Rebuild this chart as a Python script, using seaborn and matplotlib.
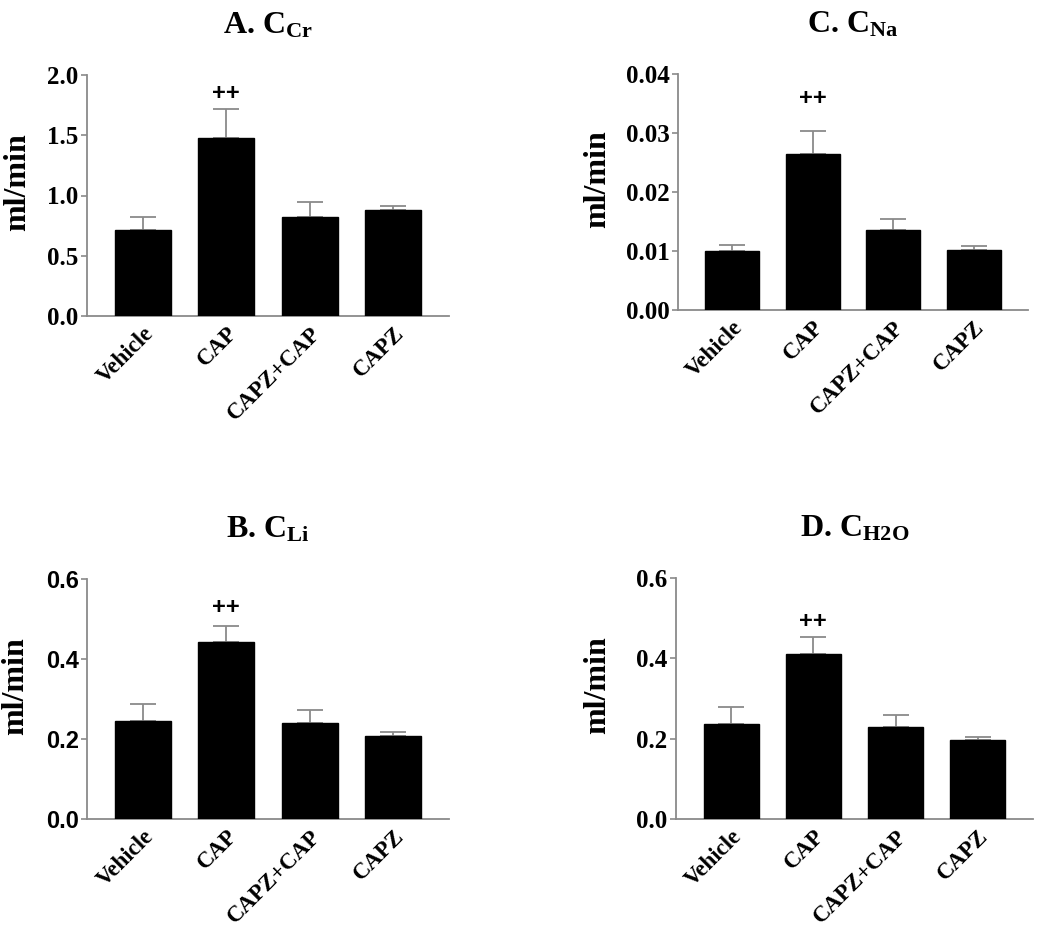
import matplotlib
matplotlib.use("Agg")
import matplotlib.pyplot as plt
import seaborn as sns
import numpy as np

# ---- data ----
groups = ["Vehicle", "CAP", "CAPZ+CAP", "CAPZ"]

ccr_mean = [0.714, 1.474, 0.822, 0.877]
ccr_sem = [0.110, 0.244, 0.122, 0.038]

cna_mean = [0.00995, 0.0264, 0.01356, 0.01017]
cna_sem = [0.00105, 0.0040, 0.00186, 0.00073]

cli_mean = [0.246, 0.442, 0.241, 0.208]
cli_sem = [0.041, 0.041, 0.032, 0.010]

ch2o_mean = [0.236, 0.412, 0.228, 0.197]
ch2o_sem = [0.042, 0.041, 0.031, 0.008]

sig_label = "++"
sig_y = [1.85, 0.0359, 0.528, 0.492]

titles = [r"A. C$_{\mathrm{Cr}}$", r"C. C$_{\mathrm{Na}}$",
          r"B. C$_{\mathrm{Li}}$", r"D. C$_{\mathrm{H2O}}$"]
yticks_list = [[0.0, 0.5, 1.0, 1.5, 2.0],
               [0.00, 0.01, 0.02, 0.03, 0.04],
               [0.0, 0.2, 0.4, 0.6],
               [0.0, 0.2, 0.4, 0.6]]
ytick_fmt = ["{:.1f}", "{:.2f}", "{:.1f}", "{:.1f}"]
ylabel = "ml/min"

sns.set_style("white")
plt.rcParams["mathtext.fontset"] = "custom"
plt.rcParams["mathtext.rm"] = "Liberation Serif:bold"
plt.rcParams["mathtext.bf"] = "Liberation Serif:bold"
plt.rcParams["mathtext.it"] = "Liberation Serif:bold"
plt.rcParams["text.color"] = "black"
plt.rcParams["axes.labelcolor"] = "black"
plt.rcParams["xtick.color"] = "black"
plt.rcParams["ytick.color"] = "black"

W, H = 1050, 932
fig = plt.figure(figsize=(W / 100, H / 100), dpi=100)

# axes boxes in pixels: left, top, right, bottom
boxes = [(87, 75, 449, 316), (678, 74, 1028, 310),
         (87, 579, 449, 819), (676, 578, 1033, 819)]
label_off = [55, 66, 57, 64]
tick_font = ["Liberation Serif", "Liberation Serif", "Liberation Sans", "Liberation Serif"]

means = [ccr_mean, cna_mean, cli_mean, ch2o_mean]
sems = [ccr_sem, cna_sem, cli_sem, ch2o_sem]

gray = "#8a8a8a"

for i in range(4):
    l, t, r, b = boxes[i]
    ax = fig.add_axes([l / W, (H - b) / H, (r - l) / W, (b - t) / H])
    sns.barplot(x=groups, y=means[i], color="black", saturation=1, width=0.67,
                edgecolor="black", errorbar=None, ax=ax, zorder=3)
    x = np.arange(len(groups))
    ax.errorbar(x, means[i], yerr=[np.zeros(len(groups)), sems[i]], fmt="none",
                ecolor=gray, elinewidth=1.3, capsize=9.4, capthick=1.3, zorder=2)
    ax.set_xlim(-0.67, 3.67)
    yt = yticks_list[i]
    ax.set_ylim(yt[0], yt[-1])
    ax.set_yticks(yt)
    tfs = 17 if tick_font[i] == "Liberation Sans" else 18
    ax.set_yticklabels([ytick_fmt[i].format(v) for v in yt],
                       fontfamily=tick_font[i], fontweight="bold", fontsize=tfs)
    ax.set_xticks(x)
    ax.set_xticklabels(groups, rotation=45, ha="right", rotation_mode="anchor",
                       fontfamily="Liberation Serif", fontweight="bold", fontsize=16.5)
    ax.tick_params(axis="x", length=0, pad=5)
    ax.tick_params(axis="y", length=4, width=1.2, color=gray, pad=2, left=True)
    for s in ["top", "right"]:
        ax.spines[s].set_visible(False)
    for s in ["left", "bottom"]:
        ax.spines[s].set_color(gray)
        ax.spines[s].set_linewidth(1.3)
    ax.set_xlabel("")
    ax.set_ylabel(ylabel, fontfamily="Liberation Serif", fontweight="bold", fontsize=23)
    ax.yaxis.set_label_coords(-label_off[i] / (r - l), 0.555)
    ax.set_title(titles[i], fontsize=23, pad=30, fontfamily="Liberation Serif",
                 fontweight="bold")
    ax.text(1, sig_y[i], sig_label, ha="center", va="center",
            fontfamily="Liberation Sans", fontweight="bold", fontsize=17)

fig.savefig("out.png", dpi=100)
